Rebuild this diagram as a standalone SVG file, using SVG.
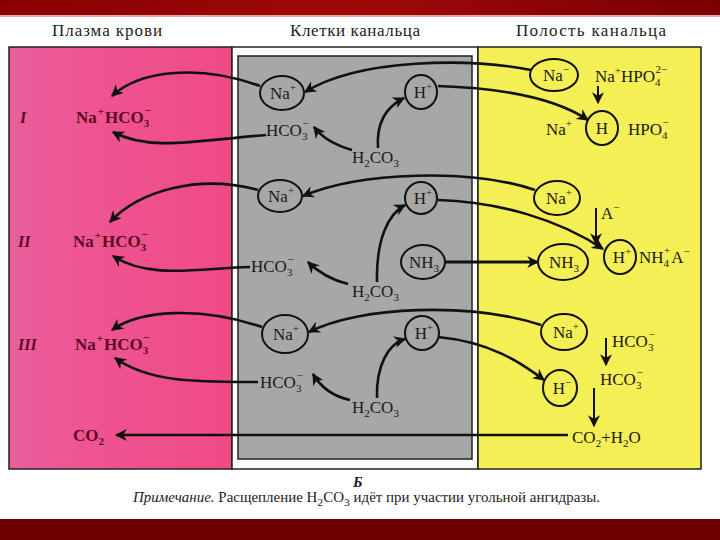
<svg xmlns="http://www.w3.org/2000/svg" width="720" height="540" viewBox="0 0 720 540">
<defs>
<linearGradient id="topband" x1="0" y1="0" x2="1" y2="0"><stop offset="0" stop-color="#8a0000"/><stop offset="0.5" stop-color="#a00808"/><stop offset="1" stop-color="#7a0000"/></linearGradient>
<linearGradient id="pink" x1="0" y1="0" x2="1" y2="0"><stop offset="0" stop-color="#ea5e9c"/><stop offset="0.35" stop-color="#ee5592"/><stop offset="1" stop-color="#ef4a86"/></linearGradient>
<marker id="ah" viewBox="0 0 10 10" refX="9" refY="5" markerWidth="12" markerHeight="12" markerUnits="userSpaceOnUse" orient="auto"><path d="M0,0 L10,5 L0,10 L3,5 Z" fill="#111"/></marker>
</defs>
<style>
.hdr{font-family:"Liberation Serif","DejaVu Serif",serif;font-size:17px;fill:#222}
.lb{font-family:"Liberation Serif","DejaVu Serif",serif;font-size:17px;fill:#1a1a1a}
.pl{font-family:"Liberation Serif","DejaVu Serif",serif;font-size:17px;font-weight:bold;fill:#5a0a22}
.rn{font-family:"Liberation Serif","DejaVu Serif",serif;font-size:16px;font-style:italic;font-weight:bold;fill:#5a0a22}
.s{font-size:11px}
.m{text-anchor:middle}
.c{fill:none;stroke:#111;stroke-width:2}
.ln{fill:none;stroke:#111;stroke-width:2.6;marker-end:url(#ah)}
.note{font-family:"Liberation Serif","DejaVu Serif",serif;font-size:14px;fill:#222}
</style>
<rect x="0" y="0" width="720" height="540" fill="#fff"/>
<rect x="0" y="0" width="720" height="15" fill="url(#topband)"/>
<rect x="0" y="15" width="720" height="2" fill="#c85050" opacity="0.5"/>
<rect x="0" y="519" width="720" height="21" fill="#700000"/>

<g id="headers">
<text class="hdr" x="52" y="36" textLength="110">Плазма крови</text>
<text class="hdr" x="290" y="36" textLength="130">Клетки канальца</text>
<text class="hdr" x="516" y="36" textLength="150">Полость канальца</text>
</g>

<g id="zones">
<rect x="9" y="47" width="223" height="422" fill="url(#pink)" stroke="#222" stroke-width="1.5"/>
<rect x="232" y="47" width="246" height="422" fill="#fdfdfd" stroke="#222" stroke-width="1.5"/>
<rect x="238" y="56" width="234" height="403" fill="#a7a7a7" stroke="#222" stroke-width="1.5"/>
<rect x="478" y="47" width="223" height="422" fill="#f4ef55" stroke="#222" stroke-width="1.5"/>
</g>

<g id="connectors">
<!-- Row I -->
<path class="ln" d="M531,70 C470,58 360,58 305,92"/>
<path class="ln" d="M260,86 C200,64 140,70 112,96"/>
<path class="ln" d="M266,135 C200,140 150,152 113,132"/>
<path class="ln" d="M352,150 C338,146 324,140 314,127"/>
<path class="ln" d="M378,148 C376,120 388,106 404,98"/>
<path class="ln" d="M438,86 C500,88 555,98 588,120"/>
<path class="ln" d="M598,86 L598,103" style="stroke-width:2"/>
<!-- Row II -->
<path class="ln" d="M535,190 C470,168 360,172 303,196"/>
<path class="ln" d="M258,190 C200,174 140,190 110,222"/>
<path class="ln" d="M250,267 C200,268 150,280 113,256"/>
<path class="ln" d="M348,284 C332,280 318,272 308,262"/>
<path class="ln" d="M377,282 C376,240 388,214 405,205"/>
<path class="ln" d="M438,200 C500,202 560,220 603,249"/>
<path class="ln" d="M445,262 L538,262" style="stroke-width:3.2"/>
<path class="ln" d="M596,208 L596,244" style="stroke-width:2"/>
<!-- Row III -->
<path class="ln" d="M541,325 C470,302 360,306 309,332"/>
<path class="ln" d="M262,327 C200,306 140,310 112,330"/>
<path class="ln" d="M258,382 C200,382 150,383 115,358"/>
<path class="ln" d="M350,400 C332,396 320,386 313,374"/>
<path class="ln" d="M377,398 C376,366 388,344 405,339"/>
<path class="ln" d="M438,337 C490,342 520,362 544,380"/>
<path class="ln" d="M606,338 L606,365" style="stroke-width:2"/>
<path class="ln" d="M594,388 L594,426" style="stroke-width:2"/>
<path class="ln" d="M568,435 L116,435"/>
</g>

<g id="plasma-I">
<text class="rn" x="20" y="123">I</text>
<text class="pl" x="76" y="123">Na<tspan class="s" dx="1" dy="-8">+</tspan><tspan dx="1" dy="8">HCO</tspan><tspan class="s" dy="4">3</tspan><tspan class="s" dx="-5" dy="-13">−</tspan></text>
</g>
<g id="plasma-II">
<text class="rn" x="18" y="247">II</text>
<text class="pl" x="73" y="247">Na<tspan class="s" dx="1" dy="-8">+</tspan><tspan dx="1" dy="8">HCO</tspan><tspan class="s" dy="4">3</tspan><tspan class="s" dx="-5" dy="-13">−</tspan></text>
</g>
<g id="plasma-III">
<text class="rn" x="18" y="350">III</text>
<text class="pl" x="75" y="350">Na<tspan class="s" dx="1" dy="-8">+</tspan><tspan dx="1" dy="8">HCO</tspan><tspan class="s" dy="4">3</tspan><tspan class="s" dx="-5" dy="-13">−</tspan></text>
</g>
<g id="plasma-co2">
<text class="pl" x="73" y="441">CO<tspan class="s" dy="4">2</tspan></text>
</g>

<!-- Cells row I -->
<g id="cell-na-1"><ellipse class="c" cx="282" cy="93" rx="22" ry="17"/><text class="lb m" x="283" y="99">Na<tspan class="s" dy="-8">+</tspan></text></g>
<g id="cell-hco3-1"><text class="lb" x="266" y="136">HCO<tspan class="s" dy="4">3</tspan><tspan class="s" dx="-5" dy="-13">−</tspan></text></g>
<g id="cell-h2co3-1"><text class="lb" x="352" y="163">H<tspan class="s" dy="4">2</tspan><tspan dy="-4">CO</tspan><tspan class="s" dy="4">3</tspan></text></g>
<g id="cell-h-1"><ellipse class="c" cx="421" cy="92" rx="16" ry="17"/><text class="lb m" x="423" y="98">H<tspan class="s" dy="-8">+</tspan></text></g>
<!-- Lumen row I -->
<g id="lum-na-1"><ellipse class="c" cx="554" cy="75" rx="24" ry="16"/><text class="lb m" x="556" y="81">Na<tspan class="s" dy="-8">−</tspan></text></g>
<g id="lum-nahpo4"><text class="lb" x="595" y="82">Na<tspan class="s" dy="-8">+</tspan><tspan dy="8">HPO</tspan><tspan class="s" dy="4">4</tspan><tspan class="s" dx="-5" dy="-13">2−</tspan></text></g>
<g id="lum-na-1b"><text class="lb" x="546" y="135">Na<tspan class="s" dy="-8">+</tspan></text></g>
<g id="lum-h-1"><ellipse class="c" cx="602" cy="128" rx="16" ry="17"/><text class="lb m" x="602" y="134">H</text></g>
<g id="lum-hpo4"><text class="lb" x="628" y="135">HPO<tspan class="s" dy="4">4</tspan><tspan class="s" dx="-5" dy="-13">−</tspan></text></g>

<!-- Cells row II -->
<g id="cell-na-2"><ellipse class="c" cx="280" cy="196" rx="22" ry="16"/><text class="lb m" x="281" y="202">Na<tspan class="s" dy="-8">+</tspan></text></g>
<g id="cell-hco3-2"><text class="lb" x="251" y="272">HCO<tspan class="s" dy="4">3</tspan><tspan class="s" dx="-5" dy="-13">−</tspan></text></g>
<g id="cell-h2co3-2"><text class="lb" x="352" y="297">H<tspan class="s" dy="4">2</tspan><tspan dy="-4">CO</tspan><tspan class="s" dy="4">3</tspan></text></g>
<g id="cell-h-2"><ellipse class="c" cx="421" cy="198" rx="16" ry="16"/><text class="lb m" x="423" y="204">H<tspan class="s" dy="-8">+</tspan></text></g>
<g id="cell-nh3"><ellipse class="c" cx="423" cy="262" rx="22" ry="17"/><text class="lb m" x="424" y="268">NH<tspan class="s" dy="4">3</tspan></text></g>
<!-- Lumen row II -->
<g id="lum-na-2"><ellipse class="c" cx="557" cy="198" rx="23" ry="17"/><text class="lb m" x="559" y="204">Na<tspan class="s" dy="-8">+</tspan></text></g>
<g id="lum-nh3"><ellipse class="c" cx="563" cy="262" rx="25" ry="18"/><text class="lb m" x="564" y="268">NH<tspan class="s" dy="4">3</tspan></text></g>
<g id="lum-a"><text class="lb" x="601" y="219">A<tspan class="s" dy="-8">−</tspan></text></g>
<g id="lum-h-2"><ellipse class="c" cx="620" cy="257" rx="16" ry="17"/><text class="lb m" x="622" y="263">H<tspan class="s" dy="-8">+</tspan></text></g>
<g id="lum-nh4a"><text class="lb" x="639" y="263">NH<tspan class="s" dy="4">4</tspan><tspan class="s" dx="-5" dy="-13">+</tspan><tspan dx="1" dy="9">A</tspan><tspan class="s" dy="-8">−</tspan></text></g>

<!-- Cells row III -->
<g id="cell-na-3"><ellipse class="c" cx="285" cy="334" rx="23" ry="19"/><text class="lb m" x="286" y="340">Na<tspan class="s" dy="-8">+</tspan></text></g>
<g id="cell-hco3-3"><text class="lb" x="260" y="388">HCO<tspan class="s" dy="4">3</tspan><tspan class="s" dx="-5" dy="-13">−</tspan></text></g>
<g id="cell-h2co3-3"><text class="lb" x="352" y="413">H<tspan class="s" dy="4">2</tspan><tspan dy="-4">CO</tspan><tspan class="s" dy="4">3</tspan></text></g>
<g id="cell-h-3"><ellipse class="c" cx="422" cy="333" rx="17" ry="17"/><text class="lb m" x="424" y="339">H<tspan class="s" dy="-8">+</tspan></text></g>
<!-- Lumen row III -->
<g id="lum-na-3"><ellipse class="c" cx="564" cy="332" rx="23" ry="18"/><text class="lb m" x="566" y="338">Na<tspan class="s" dy="-8">+</tspan></text></g>
<g id="lum-hco3-a"><text class="lb" x="612" y="347">HCO<tspan class="s" dy="4">3</tspan><tspan class="s" dx="-5" dy="-13">−</tspan></text></g>
<g id="lum-h-3"><ellipse class="c" cx="560" cy="388" rx="17" ry="18"/><text class="lb m" x="562" y="394">H<tspan class="s" dy="-8">−</tspan></text></g>
<g id="lum-hco3-b"><text class="lb" x="600" y="385">HCO<tspan class="s" dy="4">3</tspan><tspan class="s" dx="-5" dy="-13">−</tspan></text></g>
<g id="lum-co2h2o"><text class="lb" x="572" y="443">CO<tspan class="s" dy="4">2</tspan><tspan dy="-4">+H</tspan><tspan class="s" dy="4">2</tspan><tspan dy="-4">O</tspan></text></g>

<g id="footer">
<text class="note" x="353" y="487" style="font-style:italic;font-weight:bold;font-size:15px">Б</text>
<text class="note" x="133" y="502" textLength="467" lengthAdjust="spacingAndGlyphs"><tspan font-style="italic">Примечание.</tspan> Расщепление H<tspan class="s" dy="4">2</tspan><tspan dy="-4">CO</tspan><tspan class="s" dy="4">3</tspan><tspan dy="-4"> идёт при участии угольной  ангидразы.</tspan></text>
</g>
</svg>
